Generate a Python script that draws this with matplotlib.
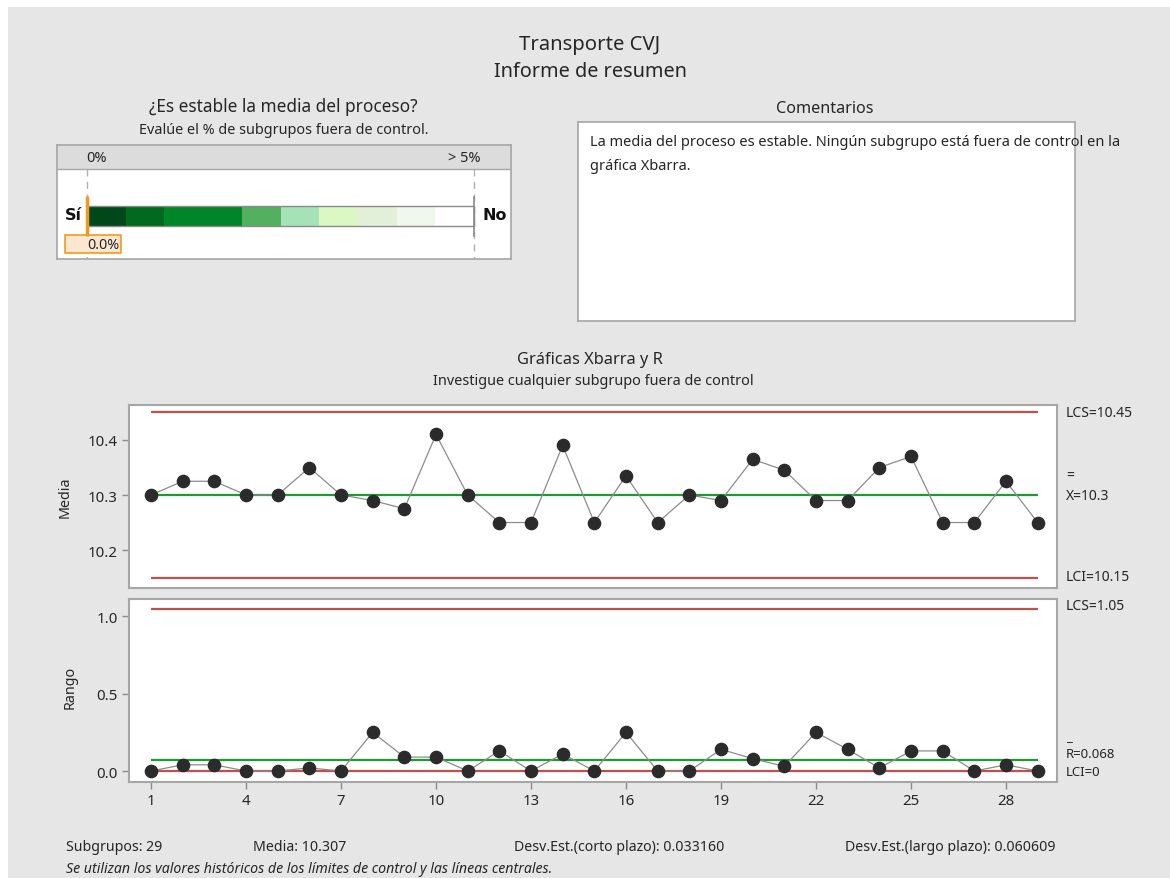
import matplotlib
matplotlib.use('Agg')
import matplotlib.pyplot as plt
from matplotlib.patches import Rectangle
import numpy as np

W, H = 1170, 879
DPI = 100

# ---------------- data ----------------
subgroups = list(range(1, 30))
xbar_means = [10.30, 10.325, 10.325, 10.30, 10.30, 10.35, 10.30, 10.29, 10.275, 10.41,
              10.30, 10.25, 10.25, 10.39, 10.25, 10.335, 10.25, 10.30, 10.29, 10.365,
              10.345, 10.29, 10.29, 10.35, 10.37, 10.25, 10.25, 10.325, 10.25]
ranges = [0.0, 0.04, 0.04, 0.0, 0.0, 0.02, 0.0, 0.25, 0.09, 0.09,
          0.0, 0.13, 0.0, 0.11, 0.0, 0.25, 0.0, 0.0, 0.14, 0.08,
          0.03, 0.25, 0.14, 0.02, 0.13, 0.13, 0.0, 0.04, 0.0]
xbar_ucl, xbar_cl, xbar_lcl = 10.45, 10.30, 10.15
r_ucl, r_cl, r_lcl = 1.05, 0.068, 0.0
xticks = [1, 4, 7, 10, 13, 16, 19, 22, 25, 28]
xbar_yticks = [10.2, 10.3, 10.4]
xbar_yticklabels = ['10.2', '10.3', '10.4']
r_yticks = [0.0, 0.5, 1.0]
r_yticklabels = ['0.0', '0.5', '1.0']
scale_edges = [0, 0.5, 1, 2, 2.5, 3, 3.5, 4, 4.5, 5]
scale_colors = ['#00481a', '#006b1f', '#00862a', '#52b05f', '#a5e2b8',
                '#daf7c4', '#e3f0d9', '#f0f8ee', '#ffffff']
pct_out = 0.0
n_sub = 29
media = 10.307
sd_short = 0.033160
sd_long = 0.060609

FONT = 'Noto Sans'
plt.rcParams['font.family'] = [FONT, 'DejaVu Sans']
TXT = '#262626'
RED = '#c0504d'
GREEN = '#1f9a30'
SPINE = '#a6a6a6'

fig = plt.figure(figsize=(W / DPI, H / DPI), dpi=DPI)
fig.patch.set_facecolor('white')
fig.patches.append(Rectangle((8 / W, 0), 1, 1 - 8 / H, transform=fig.transFigure,
                             facecolor='#e6e6e6', edgecolor='none', zorder=-10))


def T(x, y, s, **kw):
    kw.setdefault('color', TXT)
    kw.setdefault('va', 'center')
    return fig.text(x / W, 1 - y / H, s, **kw)


def add_ax(x0, y0, x1, y1):
    return fig.add_axes([x0 / W, 1 - y1 / H, (x1 - x0) / W, (y1 - y0) / H])


# ---------------- titles ----------------
T(590, 45, 'Transporte CVJ', ha='center', fontsize=14.6)
T(590, 72, 'Informe de resumen', ha='center', fontsize=14.3)

# ---------------- left panel ----------------
T(283, 107, '¿Es estable la media del proceso?', ha='center', fontsize=12.4)
T(284, 130, 'Evalúe el % de subgrupos fuera de control.', ha='center', fontsize=10.4)

px0, px1, py0, py1 = 57, 511, 146, 260
axp = add_ax(px0, py0, px1, py1)
ppx = 77.4  # px per percent
x_left = -(87 - px0) / ppx
x_right = 5 + (px1 - 474) / ppx
axp.set_xlim(x_left, x_right)
axp.set_ylim(py1, py0)
axp.set_facecolor('white')
axp.set_xticks([])
axp.set_yticks([])
for s in axp.spines.values():
    s.set_color(SPINE)
    s.set_linewidth(1.2)
axp.add_patch(Rectangle((x_left, py0), x_right - x_left, 24, facecolor='#dcdcdc',
                        edgecolor='none', zorder=1))
axp.axhline(170, color=SPINE, lw=1.0, zorder=2)
axp.text(0.12, 158, '0%', ha='center', va='center', fontsize=10.5, color=TXT)
axp.text(4.88, 158, '> 5%', ha='center', va='center', fontsize=10.5, color=TXT)
for xv in (scale_edges[0], scale_edges[-1]):
    axp.plot([xv, xv], [170, 260], color='#b0b0b0', lw=1.0, ls=(0, (5, 4)), zorder=2)
lefts = scale_edges[:-1]
widths = np.diff(scale_edges)
axp.barh([217] * len(widths), widths, left=lefts, height=20.6, color=scale_colors,
         edgecolor='none', zorder=3)
axp.add_patch(Rectangle((scale_edges[0], 206.7), scale_edges[-1] - scale_edges[0], 20.6,
                        facecolor='none', edgecolor='#8a8a8a', lw=1.0, zorder=4))
axp.plot([scale_edges[-1]] * 2, [198, 237], color='#8a8a8a', lw=1.2, zorder=4)
axp.text(-0.18, 215, 'Sí', ha='center', va='center', fontsize=11.5, fontweight='bold',
         color='#111111', family=['DejaVu Sans'])
axp.text(5.27, 215, 'No', ha='center', va='center', fontsize=11.5, fontweight='bold',
         color='#111111', family=['DejaVu Sans'])
axp.plot([pct_out, pct_out], [197, 237], color='#f39a1e', lw=2.5, zorder=6, solid_capstyle='butt')
axp.add_patch(Rectangle((pct_out - 0.284, 236), 0.723, 18, facecolor='#fbe7cf',
                        edgecolor='#f39a1e', lw=1.2, zorder=5))
axp.text(pct_out + 0.21, 245, f'{pct_out:.1f}%', ha='center', va='center', fontsize=10.3,
         color=TXT, zorder=7)

# ---------------- comments ----------------
T(825, 109, 'Comentarios', ha='center', fontsize=11.6)
axc = add_ax(578, 123, 1075, 322)
axc.set_facecolor('white')
axc.set_xticks([])
axc.set_yticks([])
for s in axc.spines.values():
    s.set_color(SPINE)
    s.set_linewidth(1.2)
T(590, 142, 'La media del proceso es estable. Ningún subgrupo está fuera de control en la',
  ha='left', fontsize=10.5)
T(590, 167, 'gráfica Xbarra.', ha='left', fontsize=10.5)

# ---------------- control charts ----------------
T(590, 360, 'Gráficas Xbarra y R', ha='center', fontsize=11.8)
T(593, 382, 'Investigue cualquier subgrupo fuera de control', ha='center', fontsize=10.4)

xlim = (0.305, 29.61)


def style_ax(ax):
    ax.set_facecolor('white')
    for s in ax.spines.values():
        s.set_color(SPINE)
        s.set_linewidth(1.5)
    ax.tick_params(axis='both', colors='#8a8a8a', labelcolor=TXT, labelsize=10.8,
                   length=5, width=1.0, direction='out', pad=3)
    ax.set_xlim(*xlim)


x_first, x_last = subgroups[0], subgroups[-1]

ax1 = add_ax(129, 406, 1057, 589)
style_ax(ax1)
ax1.set_ylim(10.131, 10.4636)
ax1.hlines([xbar_ucl, xbar_lcl], x_first, x_last, color=RED, lw=1.6, zorder=2)
ax1.hlines(xbar_cl, x_first, x_last, color=GREEN, lw=1.6, zorder=2)
ax1.plot(subgroups, xbar_means, color='#8c8c8c', lw=0.9, zorder=3)
ax1.plot(subgroups, xbar_means, 'o', color='#2b2b2b', ms=8.8, zorder=4)
ax1.set_yticks(xbar_yticks)
ax1.set_yticklabels(xbar_yticklabels)
ax1.set_xticks([])

ax2 = add_ax(129, 600, 1057, 783)
style_ax(ax2)
ax2.set_ylim(-0.071, 1.112)
ax2.hlines([r_ucl, r_lcl], x_first, x_last, color=RED, lw=1.6, zorder=2)
ax2.hlines(r_cl, x_first, x_last, color=GREEN, lw=1.6, zorder=2)
ax2.plot(subgroups, ranges, color='#8c8c8c', lw=0.9, zorder=3)
ax2.plot(subgroups, ranges, 'o', color='#2b2b2b', ms=8.8, zorder=4)
ax2.set_yticks(r_yticks)
ax2.set_yticklabels(r_yticklabels)
ax2.set_xticks(xticks)
ax2.set_xticklabels([str(t) for t in xticks])

T(65, 497, 'Media', ha='center', rotation=90, fontsize=10.3)
T(70, 687, 'Rango', ha='center', rotation=90, fontsize=10.3)

# right-side limit labels
RL = dict(ha='left', fontsize=10)
T(1066, 414, f'LCS={xbar_ucl:g}', **RL)
T(1066, 476, '=', **RL)
T(1066, 497, f'X={xbar_cl:g}', **RL)
T(1066, 578, f'LCI={xbar_lcl:g}', **RL)
T(1066, 607, f'LCS={r_ucl:g}', **RL)
T(1066, 738, '_', ha='left', fontsize=9.5)
T(1066, 755, f'R={r_cl:g}', ha='left', fontsize=9.5)
T(1066, 773, f'LCI={r_lcl:g}', ha='left', fontsize=9.5)

# ---------------- footer ----------------
FT = dict(ha='left', fontsize=10.2)
T(66, 848, f'Subgrupos: {n_sub}', **FT)
T(253, 848, f'Media: {media:.3f}', **FT)
T(514, 848, f'Desv.Est.(corto plazo): {sd_short:.6f}', **FT)
T(845, 848, f'Desv.Est.(largo plazo): {sd_long:.6f}', **FT)
T(66, 870, 'Se utilizan los valores históricos de los límites de control y las líneas centrales.',
  ha='left', fontsize=10.2, style='italic')

fig.savefig('out.png', dpi=DPI, facecolor=fig.get_facecolor())
